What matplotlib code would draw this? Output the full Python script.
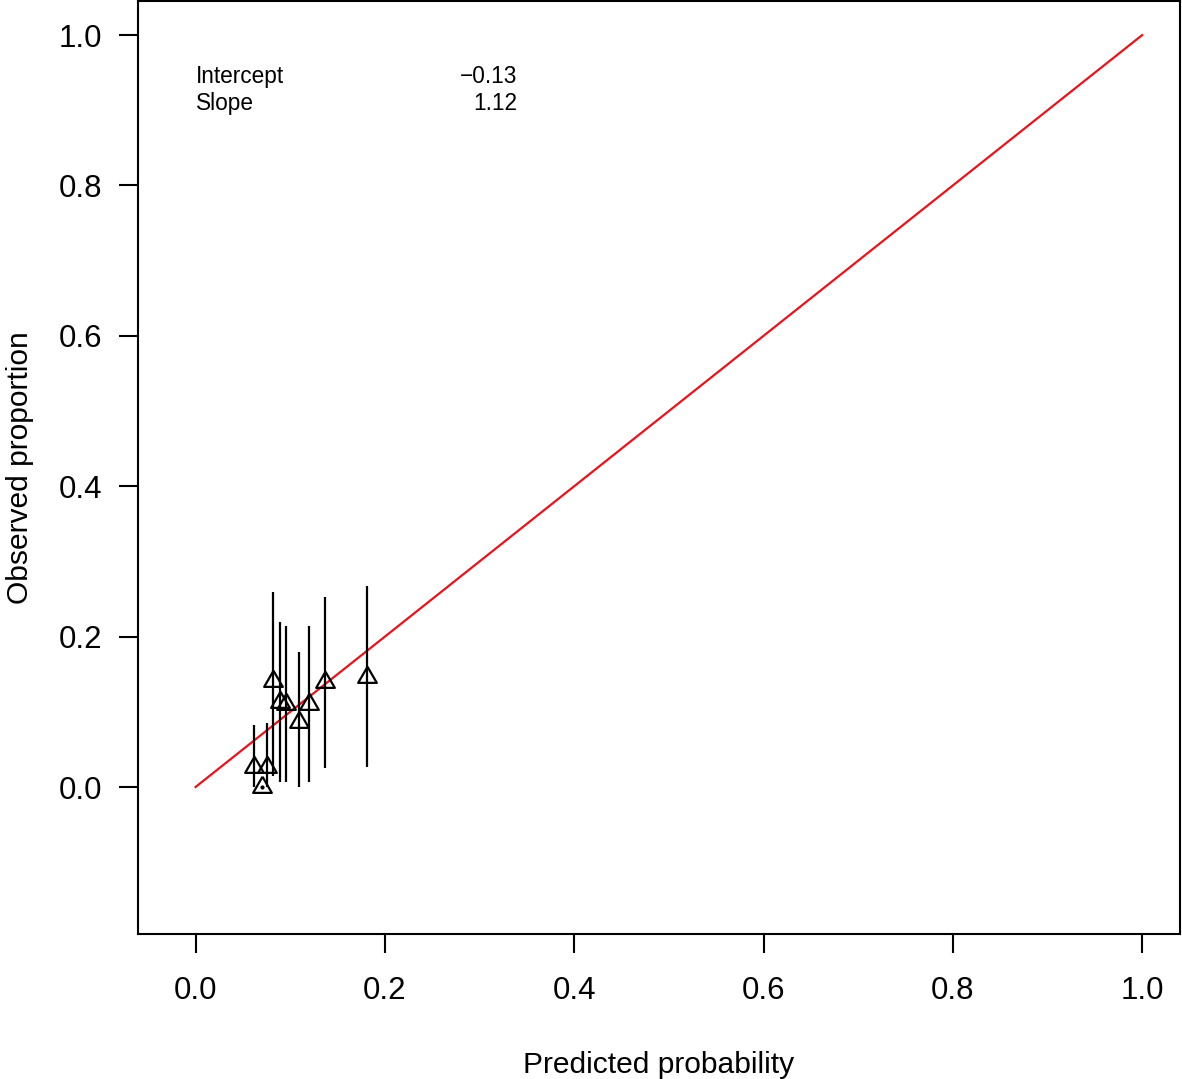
import numpy as np
import matplotlib
matplotlib.use("Agg")
import matplotlib.pyplot as plt

plt.rcParams['font.family'] = ['Liberation Sans', 'DejaVu Sans']

# Calibration groups: predicted vs observed, with confidence limits
pred = np.array([0.062, 0.070, 0.076, 0.082, 0.089, 0.096, 0.109, 0.120, 0.137, 0.181])
obs = np.array([0.027, 0.000, 0.027, 0.141, 0.113, 0.110, 0.086, 0.110, 0.139, 0.146])
lower = np.array([0.000, 0.000, 0.000, 0.014, 0.007, 0.007, 0.000, 0.007, 0.025, 0.027])
upper = np.array([0.082, 0.000, 0.085, 0.260, 0.219, 0.214, 0.180, 0.214, 0.253, 0.267])

ideal = [0.0, 1.0]
stat_names = ["Intercept", "Slope"]
stat_values = ["\u22120.13", "1.12"]
ticks = [0.0, 0.2, 0.4, 0.6, 0.8, 1.0]

fig = plt.figure(figsize=(11.82, 10.79), dpi=100)
ax = fig.add_axes([138/1182, (1079-934)/1079, (1180-138)/1182, 933.5/1079])

# ligne idéale
ax.plot(ideal, ideal, color='#e8141c', lw=1.6, zorder=2)

# intervalles et points
ax.vlines(pred, lower, upper, color='black', lw=1.6, zorder=3)
tri = [(0, 1), (0.866, -0.5), (-0.866, -0.5), (0, 1)]
ax.plot(pred, obs, linestyle='none', marker=tri, markersize=15.5,
        markerfacecolor='none', markeredgecolor='black', markeredgewidth=1.6,
        zorder=4)
flat = lower == upper
ax.plot(pred[flat], obs[flat], linestyle='none', marker='o', markersize=2,
        color='black', zorder=4)

# statistiques
for i, (nm, val) in enumerate(zip(stat_names, stat_values)):
    yy = 0.945 - i*0.036
    ax.text(0.0, yy, nm, fontsize=16.3, ha='left', va='center')
    ax.text(0.340, yy, val, fontsize=16.3, ha='right', va='center')

ax.set_xlim(-0.0608, 1.040)
ax.set_ylim(-0.1955, 1.046)
ax.set_xticks(ticks)
ax.set_yticks(ticks)
ax.set_xticklabels([f"{t:.1f}" for t in ticks])
ax.set_yticklabels([f"{t:.1f}" for t in ticks])
ax.tick_params(axis='x', length=13.5, width=1.5, pad=17, labelsize=22.5)
ax.tick_params(axis='y', length=13.5, width=1.5, pad=12, labelsize=22.5)
for s in ax.spines.values():
    s.set_linewidth(1.5)

ax.set_xlabel("Predicted probability", fontsize=21.6, labelpad=32)
ax.set_ylabel("Observed proportion", fontsize=21.6, labelpad=18)

plt.savefig("out.png", dpi=100)
